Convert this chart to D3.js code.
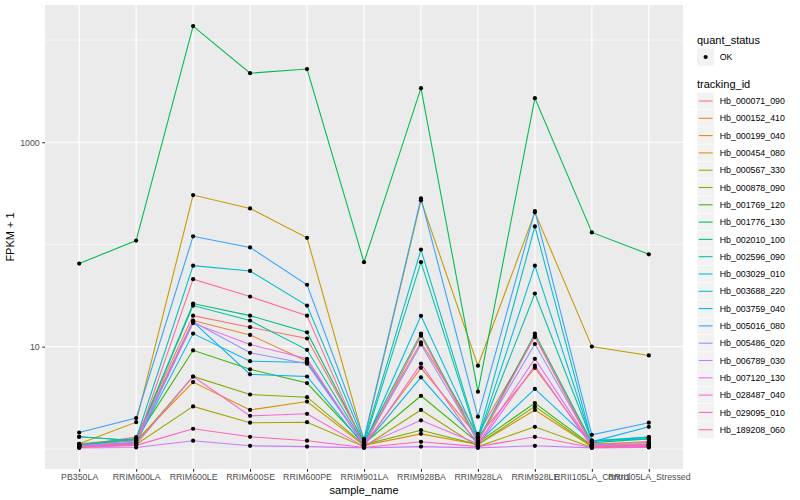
<!DOCTYPE html>
<html>
<head>
<meta charset="utf-8">
<script src="https://cdn.jsdelivr.net/npm/d3@7"></script>
<style>
  body { margin: 0; background: #fff; }
  text { font-family: "Liberation Sans", Arial, sans-serif; }
</style>
</head>
<body>
<div id="wrapper"></div>
<script>
// samples on the x axis
const samples = ["PB350LA", "RRIM600LA", "RRIM600LE", "RRIM600SE", "RRIM600PE", "RRIM901LA",
    "RRIM928BA", "RRIM928LA", "RRIM928LE", "RRII105LA_Control", "RRII105LA_Stressed"];

const trackingIds = ["Hb_000071_090", "Hb_000152_410", "Hb_000199_040", "Hb_000454_080", "Hb_000567_330",
    "Hb_000878_090", "Hb_001769_120", "Hb_001776_130", "Hb_002010_100", "Hb_002596_090",
    "Hb_003029_010", "Hb_003688_220", "Hb_003759_040", "Hb_005016_080", "Hb_005486_020",
    "Hb_006789_030", "Hb_007120_130", "Hb_028487_040", "Hb_029095_010", "Hb_189208_060"];

// FPKM + 1, one row per tracking id, in sample order
const hb000071 = [1.08, 1.30, 20.1, 15.5, 12.0, 1.15, 11.0, 1.40, 12.4, 1.12, 1.15];
const hb000152 = [1.12, 1.25, 18.0, 13.0, 7.2, 1.10, 6.2, 1.30, 6.2, 1.10, 1.18];
const hb000199 = [1.10, 1.20, 4.5, 2.4, 2.9, 1.08, 1.40, 1.10, 2.4, 1.05, 1.10];
const hb000454 = [1.12, 1.82, 304, 225, 116, 1.20, 270, 6.5, 206, 10.0, 8.2];
const hb000567 = [1.05, 1.10, 2.6, 1.80, 1.82, 1.05, 2.4, 1.05, 1.64, 1.03, 1.05];
const hb000878 = [1.06, 1.15, 5.1, 3.4, 3.2, 1.10, 1.52, 1.10, 2.6, 1.05, 1.08];
const hb001769 = [1.08, 1.25, 9.2, 6.0, 4.4, 1.12, 3.3, 1.15, 2.8, 1.08, 1.10];
const hb001776 = [65, 109, 13700, 4740, 5200, 67, 3380, 3.62, 2700, 131, 80];
const hb002010 = [1.31, 1.20, 26.4, 20.1, 13.8, 1.15, 13.4, 1.20, 13.4, 1.15, 1.25];
const hb002596 = [1.31, 1.20, 25.2, 18.0, 9.3, 1.12, 67, 1.25, 33.1, 1.20, 1.30];
const hb003029 = [1.10, 1.25, 62, 55, 25.2, 1.18, 89, 1.30, 150, 1.18, 1.30];
const hb003688 = [1.07, 1.15, 13.4, 7.2, 7.0, 1.10, 20.0, 1.25, 62, 1.20, 1.25];
const hb003759 = [1.05, 1.12, 17.5, 5.35, 5.1, 1.08, 5.0, 1.15, 3.85, 1.17, 1.64];
const hb005016 = [1.44, 2.00, 120, 93.5, 40.3, 1.25, 282, 2.06, 212, 1.37, 1.80];
const hb005486 = [1.07, 1.20, 17.5, 8.7, 6.8, 1.10, 10.5, 1.20, 10.6, 1.10, 1.12];
const hb006789 = [1.02, 1.03, 1.20, 1.07, 1.05, 1.02, 1.05, 1.02, 1.07, 1.02, 1.03];
const hb007120 = [1.05, 1.15, 17.0, 10.5, 7.6, 1.08, 1.90, 1.12, 7.6, 1.08, 1.10];
const hb028487 = [1.04, 1.10, 5.1, 2.1, 2.2, 1.05, 6.8, 1.08, 6.5, 1.04, 1.06];
const hb029095 = [1.03, 1.08, 1.57, 1.31, 1.20, 1.03, 1.17, 1.05, 1.31, 1.03, 1.04];
const hb189208 = [1.04, 1.12, 45.7, 30.9, 20.1, 1.05, 12.8, 1.15, 12.8, 1.06, 1.08];

const seriesValues = [hb000071, hb000152, hb000199, hb000454, hb000567, hb000878, hb001769, hb001776,
    hb002010, hb002596, hb003029, hb003688, hb003759, hb005016, hb005486, hb006789, hb007120,
    hb028487, hb029095, hb189208];

const majorTicks = [10, 1000];
const minorTicks = [1, 100, 10000];

// ggplot hue palette for 20 levels
const palette = ["#F8766D", "#EA8331", "#D89000", "#C09B00", "#A3A500", "#7CAE00", "#39B600", "#00BB4E",
    "#00BF7D", "#00C1A3", "#00BFC4", "#00BAE0", "#00B0F6", "#35A2FF", "#9590FF", "#C77CFF",
    "#E76BF3", "#FA62DB", "#FF62BC", "#FF6C91"];

function drawChart() {
    const dimensions = {
        width: 800,
        height: 500,
        margin: { top: 5, right: 117, bottom: 31, left: 45 },
    }
    dimensions.boundedWidth = dimensions.width - dimensions.margin.left - dimensions.margin.right
    dimensions.boundedHeight = dimensions.height - dimensions.margin.top - dimensions.margin.bottom

    const svg = d3.select("#wrapper")
        .append("svg")
        .attr("width", dimensions.width)
        .attr("height", dimensions.height);

    const bounds = svg.append("g")
        .attr("transform", `translate(${dimensions.margin.left},${dimensions.margin.top})`);

    const xScale = d3.scalePoint()
        .domain(samples)
        .range([0, dimensions.boundedWidth])
        .padding(0.6);

    const allValues = seriesValues.flat();
    const lo = Math.log10(d3.min(allValues));
    const hi = Math.log10(d3.max(allValues));
    const pad = (hi - lo) * 0.05;
    const yScale = d3.scaleLog()
        .domain([Math.pow(10, lo - pad), Math.pow(10, hi + pad)])
        .range([dimensions.boundedHeight, 0]);

    // panel
    bounds.append("rect")
        .attr("width", dimensions.boundedWidth)
        .attr("height", dimensions.boundedHeight)
        .attr("fill", "#EBEBEB");

    bounds.append("g").selectAll("line")
        .data(minorTicks)
        .join("line")
        .attr("x1", 0).attr("x2", dimensions.boundedWidth)
        .attr("y1", d => yScale(d)).attr("y2", d => yScale(d))
        .attr("stroke", "#fff").attr("stroke-width", 0.55);

    bounds.append("g").selectAll("line")
        .data(majorTicks)
        .join("line")
        .attr("x1", 0).attr("x2", dimensions.boundedWidth)
        .attr("y1", d => yScale(d)).attr("y2", d => yScale(d))
        .attr("stroke", "#fff").attr("stroke-width", 1.1);

    bounds.append("g").selectAll("line")
        .data(samples)
        .join("line")
        .attr("x1", d => xScale(d)).attr("x2", d => xScale(d))
        .attr("y1", 0).attr("y2", dimensions.boundedHeight)
        .attr("stroke", "#fff").attr("stroke-width", 1.1);

    // lines
    const lineGen = d3.line()
        .x((d, i) => xScale(samples[i]))
        .y(d => yScale(d));

    bounds.append("g").selectAll("path")
        .data(seriesValues)
        .join("path")
        .attr("d", d => lineGen(d))
        .attr("fill", "none")
        .attr("stroke", (d, i) => palette[i])
        .attr("stroke-width", 1.07);

    // points
    const points = [];
    seriesValues.forEach(vals => vals.forEach((v, i) => points.push([samples[i], v])));
    bounds.append("g").selectAll("circle")
        .data(points)
        .join("circle")
        .attr("cx", d => xScale(d[0]))
        .attr("cy", d => yScale(d[1]))
        .attr("r", 2.1)
        .attr("fill", "black");

    // axes
    const xAxis = bounds.append("g")
        .attr("transform", `translate(0,${dimensions.boundedHeight})`)
        .call(d3.axisBottom(xScale).tickSize(2.75).tickPadding(2.5));
    const yAxis = bounds.append("g")
        .call(d3.axisLeft(yScale).tickValues(majorTicks).tickFormat(d3.format("d")).tickSize(2.75).tickPadding(2.5));
    [xAxis, yAxis].forEach(ax => {
        ax.select(".domain").remove();
        ax.selectAll(".tick line").attr("stroke", "#333333").attr("stroke-width", 1.1);
        ax.selectAll(".tick text").attr("fill", "#4D4D4D").style("font-size", "8.8px")
            .style("font-family", "'Liberation Sans', Arial, sans-serif");
    });

    svg.append("text")
        .attr("x", dimensions.margin.left + dimensions.boundedWidth / 2)
        .attr("y", 494)
        .attr("text-anchor", "middle")
        .attr("font-size", "11px")
        .attr("fill", "black")
        .text("sample_name");

    svg.append("text")
        .attr("transform", `translate(14,${dimensions.margin.top + dimensions.boundedHeight / 2}) rotate(-90)`)
        .attr("text-anchor", "middle")
        .attr("font-size", "11px")
        .attr("fill", "black")
        .text("FPKM + 1");

    // legends
    const legend = svg.append("g").attr("transform", "translate(697,0)");
    const keySize = 17.28;

    legend.append("text").attr("x", 0).attr("y", 44).attr("font-size", "11px").text("quant_status");
    legend.append("rect").attr("x", 0).attr("y", 57 - keySize / 2)
        .attr("width", keySize).attr("height", keySize).attr("fill", "#F2F2F2");
    legend.append("circle").attr("cx", keySize / 2).attr("cy", 57).attr("r", 2.1).attr("fill", "black");
    legend.append("text").attr("x", keySize + 5.5).attr("y", 60).attr("font-size", "8.8px").text("OK");

    legend.append("text").attr("x", 0).attr("y", 88).attr("font-size", "11px").text("tracking_id");
    const keys = legend.append("g").selectAll("g")
        .data(trackingIds)
        .join("g")
        .attr("transform", (d, i) => `translate(0,${101 + i * 17.3})`);
    keys.append("rect")
        .attr("y", -keySize / 2)
        .attr("width", keySize).attr("height", keySize)
        .attr("fill", "#F2F2F2").attr("stroke", "#fff").attr("stroke-width", 0.5);
    keys.append("line")
        .attr("x1", 1.7).attr("x2", keySize - 1.7)
        .attr("stroke", (d, i) => palette[i])
        .attr("stroke-width", 1.07);
    keys.append("text")
        .attr("x", keySize + 5.5)
        .attr("y", 3.1)
        .attr("font-size", "8.8px")
        .text(d => d);
}

drawChart();
</script>
</body>
</html>
